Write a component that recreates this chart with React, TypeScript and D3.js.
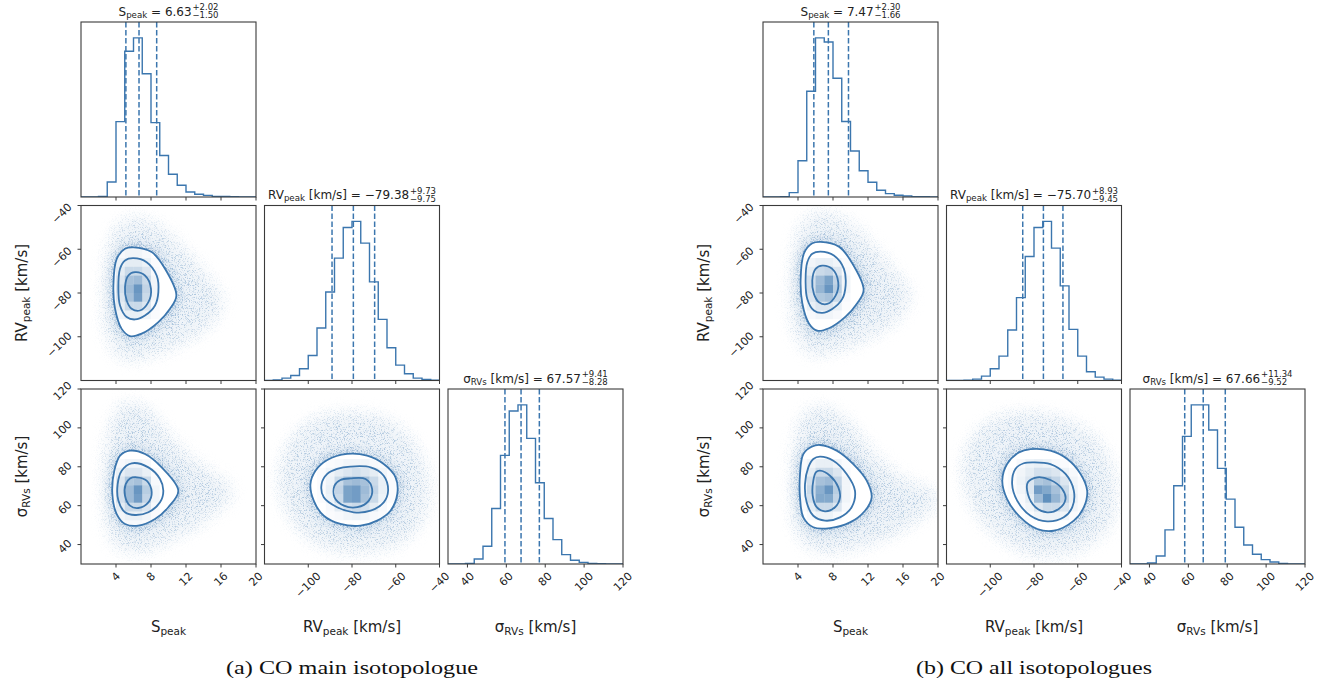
import React, { useEffect, useRef } from "react";
import * as d3 from "d3";

const W = 1332;
const H = 686;
const BLUE = "#3b76ae";
const FRAME = "#3a3a3a";
const FONT = "DejaVu Sans, Verdana, sans-serif";

// ---------- axes ----------
const sPeakDomain: [number, number] = [0, 20];
const rvPeakDomain: [number, number] = [-120, -40];
const sigmaDomain: [number, number] = [30, 120];
const sPeakTicks = [4, 8, 12, 16, 20];
const rvPeakTicks = [-100, -80, -60, -40];
const sigmaTicks = [40, 60, 80, 100, 120];

// ---------- 1D histograms (20 bins over each domain, relative counts) ----------
const sPeakHistA = [0, 0, 2, 45, 225, 435, 475, 368, 222, 124, 68, 35, 15, 8, 5, 2, 2, 1, 0, 0];
const rvPeakHistA = [0, 2, 7, 15, 35, 75, 157, 265, 366, 458, 476, 411, 295, 183, 98, 46, 20, 7, 3, 1];
const sigmaHistA = [0, 0, 2, 15, 53, 166, 325, 458, 476, 376, 243, 136, 73, 28, 11, 5, 2, 1, 0, 0];
const sPeakHistB = [0, 0, 1, 13, 108, 315, 474, 462, 354, 225, 137, 78, 44, 20, 10, 5, 3, 1, 1, 0];
const rvPeakHistB = [0, 0, 1, 4, 13, 35, 73, 151, 248, 371, 458, 476, 396, 283, 153, 73, 26, 10, 4, 1];
const sigmaHistB = [0, 0, 3, 24, 102, 234, 382, 476, 476, 401, 286, 194, 110, 57, 29, 13, 6, 2, 0, 0];

// ---------- quantiles (16%, 50%, 84%) ----------
const sPeakQuantA = [5.13, 6.63, 8.65];
const rvPeakQuantA = [-89.13, -79.38, -69.65];
const sigmaQuantA = [59.29, 67.57, 76.98];
const sPeakQuantB = [5.81, 7.47, 9.77];
const rvPeakQuantB = [-85.15, -75.7, -66.77];
const sigmaQuantB = [58.14, 67.66, 79.0];

// ---------- title values: [median, +err, -err] ----------
const sPeakTitleA = ["6.63", "+2.02", "\u22121.50"];
const rvPeakTitleA = ["\u221279.38", "+9.73", "\u22129.75"];
const sigmaTitleA = ["67.57", "+9.41", "\u22128.28"];
const sPeakTitleB = ["7.47", "+2.30", "\u22121.66"];
const rvPeakTitleB = ["\u221275.70", "+8.93", "\u22129.45"];
const sigmaTitleB = ["67.66", "+11.34", "\u22129.52"];

const captions = ["(a) CO main isotopologue", "(b) CO all isotopologues"];

// ---------- 2D panels: contours (outer, middle, inner) and point cloud extent ----------
// A: S_peak vs RV_peak
const cloudA10 = [[5.79, -46.1], [9.22, -50.7], [11.9, -61.3], [14.5, -73.5], [16.1, -84.2], [14.5, -94.8], [11.5, -102.5], [7.7, -108.6], [5.03, -110.1], [3.5, -104], [2.74, -88.8], [2.93, -68.9], [3.89, -52.2]];
const outerA10 = [[5.98, -59.1], [8.08, -61.3], [9.6, -68.9], [10.9, -81.1], [10.17, -87.2], [8.84, -93.3], [6.93, -98.6], [5.6, -99.7], [4.65, -96.4], [3.89, -87.2], [3.7, -76.6], [4.08, -64.4], [5.03, -59.8]];
const middleA10 = [[5.98, -64.1], [7.5, -65.9], [8.65, -72.0], [8.84, -79.6], [8.46, -85.7], [7.31, -90.3], [6.17, -92.1], [5.22, -91.0], [4.46, -85.7], [4.27, -78.1], [4.46, -68.9], [5.03, -65.1]];
const innerA10 = [[6.17, -70.5], [7.31, -72.0], [8.0, -78.1], [7.7, -84.2], [6.74, -88.0], [5.79, -87.2], [5.22, -83.4], [5.03, -77.3], [5.41, -72.0]];
const densA10 = [
  [0, 0.05, 0.08, 0.08, 0.05, 0],
  [0, 0.1, 0.15, 0.15, 0.1, 0.03],
  [0.03, 0.15, 0.3, 0.3, 0.2, 0.05],
  [0.05, 0.2, 0.5, 0.55, 0.3, 0.08],
  [0.05, 0.25, 0.55, 0.85, 0.35, 0.08],
  [0.05, 0.2, 0.5, 0.8, 0.3, 0.08],
  [0.03, 0.15, 0.3, 0.3, 0.2, 0.05],
  [0, 0.08, 0.12, 0.12, 0.08, 0.03],
];
// A: S_peak vs sigma
const cloudA20 = [[5.03, 112.3], [7.7, 108.9], [10.36, 93.4], [13.8, 79.7], [17.2, 67.7], [14.5, 54.0], [10.7, 43.7], [6.93, 36.8], [4.27, 38.6], [3.12, 48.9], [2.74, 66.0], [2.93, 88.3], [3.69, 103.7]];
const outerA20 = [[5.6, 88.3], [7.31, 86.6], [9.22, 79.7], [11.12, 67.7], [9.98, 59.2], [8.46, 53.1], [6.55, 49.7], [5.03, 50.6], [4.08, 55.7], [3.58, 66.0], [3.81, 78.0], [4.46, 85.7]];
const middleA20 = [[5.79, 81.8], [7.7, 79.7], [9.03, 73.7], [9.41, 67.7], [9.03, 61.7], [7.7, 56.6], [6.17, 55.2], [5.03, 56.6], [4.27, 62.6], [4.19, 71.1], [4.65, 78.0]];
const innerA20 = [[6.36, 74.6], [7.5, 72.9], [8.08, 66.9], [7.7, 61.7], [6.55, 58.8], [5.6, 60.0], [5.03, 65.1], [5.11, 71.1], [5.6, 74.0]];
const densA20 = [
  [0, 0.05, 0.08, 0.08, 0.05, 0],
  [0.03, 0.12, 0.2, 0.2, 0.12, 0.03],
  [0.05, 0.2, 0.45, 0.5, 0.3, 0.05],
  [0.05, 0.25, 0.55, 0.85, 0.4, 0.08],
  [0.05, 0.25, 0.55, 0.8, 0.35, 0.08],
  [0.03, 0.15, 0.3, 0.3, 0.2, 0.05],
  [0, 0.08, 0.12, 0.12, 0.08, 0.03],
  [0, 0.03, 0.05, 0.05, 0.03, 0],
];
// A: RV_peak vs sigma
const cloudA21 = [[-80.7, 107.1], [-63.9, 103.7], [-50.2, 88.3], [-45.6, 67.7], [-50.2, 48.9], [-63.9, 38.6], [-80.7, 36.8], [-97.5, 42.0], [-109.6, 57.4], [-112.7, 76.3], [-106.6, 95.2], [-94.4, 105.4]];
const outerA21 = [[-82.2, 86.6], [-73.1, 85.7], [-65.5, 81.4], [-60.1, 74.6], [-59.3, 66.0], [-62.4, 57.4], [-68.5, 52.3], [-76.1, 49.7], [-85.3, 50.6], [-92.9, 54.8], [-97.5, 62.6], [-99.0, 71.1], [-96.7, 78.0], [-91.3, 83.5]];
const middleA21 = [[-80.7, 80.1], [-71.5, 79.7], [-65.5, 75.4], [-63.5, 67.7], [-65.5, 61.7], [-71.5, 57.4], [-79.2, 56.6], [-86.8, 59.2], [-92.9, 64.3], [-93.9, 71.1], [-91.3, 76.3], [-86.8, 78.9]];
const innerA21 = [[-80.7, 74.0], [-73.8, 73.7], [-70.8, 68.6], [-72.3, 62.6], [-77.6, 59.2], [-83.7, 60.0], [-88.0, 64.3], [-88.0, 70.3], [-85.3, 73.2]];
const densA21 = [
  [0, 0.03, 0.05, 0.08, 0.08, 0.08, 0.05, 0.03, 0],
  [0.03, 0.08, 0.15, 0.2, 0.25, 0.2, 0.15, 0.08, 0.03],
  [0.03, 0.1, 0.3, 0.5, 0.55, 0.5, 0.3, 0.12, 0.03],
  [0.03, 0.12, 0.35, 0.75, 0.8, 0.55, 0.35, 0.12, 0.03],
  [0.03, 0.1, 0.3, 0.75, 0.8, 0.5, 0.3, 0.1, 0.03],
  [0, 0.05, 0.15, 0.25, 0.3, 0.25, 0.15, 0.05, 0],
  [0, 0.03, 0.05, 0.08, 0.1, 0.08, 0.05, 0.03, 0],
];
// B: S_peak vs RV_peak
const cloudB10 = [[6.39, -43.6], [9.82, -48.2], [12.5, -58.8], [15.1, -71], [16.7, -81.7], [15.1, -92.3], [12.1, -100], [8.3, -106.1], [5.63, -107.6], [4.1, -101.5], [3.34, -86.3], [3.53, -66.4], [4.49, -49.7]];
const outerB10 = [[6.58, -56.6], [8.68, -58.8], [10.2, -66.4], [11.5, -78.6], [10.77, -84.7], [9.44, -90.8], [7.53, -96.1], [6.2, -97.2], [5.25, -93.9], [4.49, -84.7], [4.3, -74.1], [4.68, -61.9], [5.63, -57.3]];
const middleB10 = [[6.58, -61.1], [8.1, -62.9], [9.25, -69], [9.44, -76.6], [9.06, -82.7], [7.91, -87.3], [6.77, -89.1], [5.82, -88], [5.06, -82.7], [4.87, -75.1], [5.06, -65.9], [5.63, -62.1]];
const innerB10 = [[6.77, -67.5], [7.91, -69], [8.6, -75.1], [8.3, -81.2], [7.34, -85], [6.39, -84.2], [5.82, -80.4], [5.63, -74.3], [6.01, -69]];
const densB10 = [
  [0.03, 0.08, 0.12, 0.12, 0.08, 0.03],
  [0.05, 0.15, 0.3, 0.35, 0.2, 0.05],
  [0.05, 0.25, 0.55, 0.75, 0.35, 0.08],
  [0.05, 0.25, 0.6, 0.85, 0.4, 0.08],
  [0.05, 0.2, 0.45, 0.5, 0.3, 0.05],
  [0.03, 0.12, 0.2, 0.2, 0.12, 0.03],
  [0, 0.05, 0.08, 0.08, 0.05, 0],
];
// B: S_peak vs sigma
const cloudB20 = [[6.51, 110.6], [9.56, 103.7], [12.23, 88.3], [15.66, 74.6], [19.85, 64.3], [16.8, 50.6], [12.99, 42.0], [8.42, 36.8], [5.37, 38.6], [3.85, 48.9], [3.47, 66.0], [3.66, 88.3], [4.61, 105.4]];
const outerB20 = [[6.51, 91.2], [8.42, 88.3], [10.32, 81.4], [11.85, 72.9], [12.42, 64.3], [11.66, 57.4], [9.94, 51.4], [7.66, 48.5], [5.75, 48.9], [4.61, 54.0], [4.23, 64.3], [4.23, 76.3], [4.61, 86.6], [5.56, 90.3]];
const middleB20 = [[6.51, 85.2], [8.04, 83.1], [9.56, 76.3], [10.51, 67.7], [10.13, 59.2], [8.8, 54.0], [7.09, 52.3], [5.75, 54.8], [4.99, 61.7], [4.8, 71.1], [5.18, 79.7], [5.75, 84.0]];
const innerB20 = [[6.51, 78.0], [7.66, 75.4], [8.61, 69.4], [8.8, 64.3], [8.23, 59.2], [7.09, 57.1], [6.14, 59.2], [5.68, 65.1], [5.75, 72.9], [6.06, 77.2]];
const densB20 = [
  [0.03, 0.08, 0.12, 0.12, 0.08, 0.03],
  [0.05, 0.15, 0.3, 0.3, 0.2, 0.05],
  [0.05, 0.25, 0.5, 0.55, 0.35, 0.08],
  [0.05, 0.3, 0.65, 0.85, 0.4, 0.08],
  [0.05, 0.25, 0.7, 0.7, 0.35, 0.08],
  [0.03, 0.15, 0.3, 0.3, 0.2, 0.05],
  [0, 0.05, 0.1, 0.1, 0.05, 0],
];
// B: RV_peak vs sigma
const cloudB21 = [[-80.1, 107.1], [-61.8, 102.0], [-48.1, 88.3], [-43.5, 67.7], [-46.5, 48.9], [-61.8, 36.8], [-78.5, 35.0], [-95.3, 43.7], [-107.5, 59.2], [-112.1, 78.0], [-107.5, 95.2], [-95.3, 105.4]];
const outerB21 = [[-81.6, 89.1], [-72.5, 88.3], [-64.8, 84.0], [-58.7, 76.3], [-55.7, 67.7], [-57.2, 59.2], [-61.8, 52.3], [-71.0, 47.1], [-78.5, 48.0], [-86.2, 54.0], [-92.3, 63.4], [-94.5, 72.9], [-92.3, 81.4], [-86.9, 87.4]];
const middleB21 = [[-80.1, 82.3], [-72.5, 81.4], [-65.6, 76.3], [-61.8, 67.7], [-62.5, 59.2], [-66.4, 54.0], [-74.0, 51.9], [-81.6, 54.8], [-87.7, 62.6], [-90.0, 71.1], [-88.5, 78.9], [-84.7, 81.8]];
const innerB21 = [[-78.5, 74.6], [-72.5, 73.2], [-67.1, 68.6], [-65.6, 63.4], [-68.7, 58.3], [-74.0, 56.6], [-79.3, 59.2], [-82.8, 66.0], [-82.8, 72.0]];
const densB21 = [
  [0, 0.05, 0.1, 0.12, 0.1, 0.05, 0.03, 0, 0],
  [0.03, 0.08, 0.15, 0.25, 0.25, 0.2, 0.1, 0.05, 0],
  [0.03, 0.1, 0.2, 0.45, 0.5, 0.35, 0.2, 0.08, 0.03],
  [0.03, 0.08, 0.2, 0.8, 0.7, 0.5, 0.3, 0.1, 0.03],
  [0, 0.05, 0.15, 0.55, 0.9, 0.6, 0.35, 0.12, 0.03],
  [0, 0.03, 0.08, 0.2, 0.3, 0.3, 0.2, 0.08, 0.03],
  [0, 0, 0.03, 0.08, 0.1, 0.1, 0.08, 0.03, 0],
];

// ---------- layout ----------
const P = 175;
const STEP = 183.5;
const TOP = 22;
const FIG_X0 = [81, 763];

type Var = { domain: [number, number]; ticks: number[]; label: [string, string, string]; bins: number; yShift: number };
const vars: Var[] = [
  { domain: sPeakDomain, ticks: sPeakTicks, label: ["S", "peak", ""], bins: 1, yShift: 2 },
  { domain: rvPeakDomain, ticks: rvPeakTicks, label: ["RV", "peak", " [km/s]"], bins: 4, yShift: 8 },
  { domain: sigmaDomain, ticks: sigmaTicks, label: ["\u03c3", "RVs", " [km/s]"], bins: 4.5, yShift: 2 },
];

type Panel2D = { cloud: number[][]; outer: number[][]; middle: number[][]; inner: number[][]; dens: number[][]; x0: number; yTop: number };

const figs = [
  {
    hists: [sPeakHistA, rvPeakHistA, sigmaHistA],
    quants: [sPeakQuantA, rvPeakQuantA, sigmaQuantA],
    titles: [sPeakTitleA, rvPeakTitleA, sigmaTitleA],
    panels: {
      "10": { cloud: cloudA10, outer: outerA10, middle: middleA10, inner: innerA10, dens: densA10, x0: 3, yTop: -64 },
      "20": { cloud: cloudA20, outer: outerA20, middle: middleA20, inner: innerA20, dens: densA20, x0: 3, yTop: 79.5 },
      "21": { cloud: cloudA21, outer: outerA21, middle: middleA21, inner: innerA21, dens: densA21, x0: -96, yTop: 79.5 },
    } as Record<string, Panel2D>,
    caption: captions[0],
    capW: 252,
  },
  {
    hists: [sPeakHistB, rvPeakHistB, sigmaHistB],
    quants: [sPeakQuantB, rvPeakQuantB, sigmaQuantB],
    titles: [sPeakTitleB, rvPeakTitleB, sigmaTitleB],
    panels: {
      "10": { cloud: cloudB10, outer: outerB10, middle: middleB10, inner: innerB10, dens: densB10, x0: 4, yTop: -68 },
      "20": { cloud: cloudB20, outer: outerB20, middle: middleB20, inner: innerB20, dens: densB20, x0: 4, yTop: 79.5 },
      "21": { cloud: cloudB21, outer: outerB21, middle: middleB21, inner: innerB21, dens: densB21, x0: -92, yTop: 79.5 },
    } as Record<string, Panel2D>,
    caption: captions[1],
    capW: 236,
  },
];

const fmt = (v: number) => (v < 0 ? "\u2212" + Math.abs(v) : String(v));

function subLabel(t: any, parts: [string, string, string], fs: number) {
  t.append("tspan").text(parts[0]);
  t.append("tspan").attr("font-size", fs * 0.7).attr("dy", fs * 0.22).text(parts[1]);
  if (parts[2]) t.append("tspan").attr("dy", -fs * 0.22).text(parts[2]);
}

export default function App() {
  const ref = useRef<SVGSVGElement>(null);
  useEffect(() => {
    const svg = d3.select(ref.current as SVGSVGElement);
    svg.selectAll("*").remove();
    svg.append("rect").attr("width", W).attr("height", H).attr("fill", "#fff");
    const defs = svg.append("defs");
    const mkBlur = (id: string, sd: number) =>
      defs.append("filter").attr("id", id).attr("x", "-50%").attr("y", "-50%").attr("width", "200%").attr("height", "200%")
        .append("feGaussianBlur").attr("stdDeviation", sd);
    mkBlur("blurCloud", 7);
    mkBlur("blurHalo", 3);
    // grain texture for the sample cloud: blurred shape alpha modulated by a sparse dot mask
    const mkSpeckle = (id: string, sd: number, seed: number, k: number, b: number) => {
      const sf = defs.append("filter").attr("id", id).attr("x", "-50%").attr("y", "-50%").attr("width", "200%").attr("height", "200%");
      sf.append("feGaussianBlur").attr("in", "SourceGraphic").attr("stdDeviation", sd).attr("result", "b");
      sf.append("feTurbulence").attr("type", "fractalNoise").attr("baseFrequency", 1.3).attr("numOctaves", 1).attr("seed", seed).attr("result", "n");
      sf.append("feColorMatrix").attr("in", "n").attr("type", "matrix")
        .attr("values", `0 0 0 0 0  0 0 0 0 0  0 0 0 0 0  ${k} 0 0 0 ${-b}`).attr("result", "na");
      sf.append("feComposite").attr("in", "b").attr("in2", "na").attr("operator", "in");
    };
    mkSpeckle("speckleWide", 9, 4, 5, 2.55);
    mkSpeckle("speckleNear", 6, 9, 5, 2.3);

    const tickLen = 3.5;
    const TFS = 11;

    figs.forEach((fig, fi) => {
      const X0 = FIG_X0[fi];
      for (let i = 0; i < 3; i++) {
        for (let j = 0; j <= i; j++) {
          const px = X0 + j * STEP;
          const py = TOP + i * STEP;
          const id = `f${fi}p${i}${j}`;
          const g = svg.append("g").attr("transform", `translate(${px},${py})`);
          const xs = d3.scaleLinear().domain(vars[j].domain).range([0, P]);
          defs.append("clipPath").attr("id", `clip-${id}`).append("rect").attr("width", P).attr("height", P);
          const pg = g.append("g").attr("clip-path", `url(#clip-${id})`);

          if (i === j) {
            const counts = fig.hists[i];
            const [d0, d1] = vars[i].domain;
            const n = counts.length;
            const bw = (d1 - d0) / n;
            const ys = d3.scaleLinear().domain([0, (d3.max(counts) as number) * 1.1]).range([P, 0]);
            const pts: [number, number][] = [[d0, 0]];
            counts.forEach((c, k) => {
              pts.push([d0 + k * bw, c]);
              pts.push([d0 + (k + 1) * bw, c]);
            });
            pts.push([d1, 0]);
            const line = d3.line<[number, number]>().x((d) => xs(d[0])).y((d) => ys(d[1]));
            pg.append("path").attr("d", line(pts) as string).attr("fill", "none").attr("stroke", BLUE).attr("stroke-width", 1.4);
            fig.quants[i].forEach((q) => {
              pg.append("line").attr("x1", xs(q)).attr("x2", xs(q)).attr("y1", 0).attr("y2", P)
                .attr("stroke", BLUE).attr("stroke-width", 1.5).attr("stroke-dasharray", "5.5,2.5");
            });
            // title
            const tv = fig.titles[i];
            const tg = svg.append("g");
            const ty = py - 6.5;
            const tfs = 12;
            const t = tg.append("text").attr("y", ty).attr("font-size", tfs).attr("font-family", FONT).attr("fill", "#222");
            t.append("tspan").text(vars[i].label[0]);
            t.append("tspan").attr("font-size", tfs * 0.72).attr("dy", 2).text(vars[i].label[1]);
            t.append("tspan").attr("dy", -2).text(vars[i].label[2] + " = " + tv[0]);
            const w = (t.node() as SVGTextElement).getComputedTextLength();
            const sfs = 8.5;
            const sp = tg.append("text").attr("x", w + 0.8).attr("y", ty - 5.5).attr("font-size", sfs).attr("font-family", FONT).attr("fill", "#222").text(tv[1]);
            const sb = tg.append("text").attr("x", w + 0.8).attr("y", ty + 2.6).attr("font-size", sfs).attr("font-family", FONT).attr("fill", "#222").text(tv[2]);
            const ws = Math.max((sp.node() as SVGTextElement).getComputedTextLength(), (sb.node() as SVGTextElement).getComputedTextLength());
            const total = w + 0.8 + ws;
            tg.attr("transform", `translate(${px + P / 2 - total / 2},0)`);
          } else {
            const spec = fig.panels[`${i}${j}`];
            const ys = d3.scaleLinear().domain(vars[i].domain).range([P, 0]);
            const line = d3.line<number[]>().x((d) => xs(d[0])).y((d) => ys(d[1])).curve(d3.curveCatmullRomClosed.alpha(0.5));
            // faint smooth haze + grainy sample cloud, denser towards the outer contour
            pg.append("path").attr("d", line(spec.cloud) as string).attr("fill", BLUE).attr("opacity", 0.08).attr("filter", "url(#blurCloud)");
            pg.append("path").attr("d", line(spec.cloud) as string).attr("fill", BLUE).attr("opacity", 0.35).attr("filter", "url(#speckleWide)");
            pg.append("path").attr("d", line(spec.outer) as string).attr("fill", BLUE).attr("opacity", 0.85).attr("filter", "url(#speckleNear)");
            pg.append("path").attr("d", line(spec.outer) as string).attr("fill", BLUE).attr("opacity", 0.2).attr("filter", "url(#blurCloud)");
            pg.append("path").attr("d", line(spec.outer) as string).attr("fill", "#fff");
            defs.append("clipPath").attr("id", `oc-${id}`).append("path").attr("d", line(spec.outer) as string);
            const cg = pg.append("g").attr("clip-path", `url(#oc-${id})`);
            const bx = vars[j].bins;
            const by = vars[i].bins;
            spec.dens.forEach((row, r) => {
              const ylo = spec.yTop - r * by;
              row.forEach((v, c) => {
                if (v <= 0) return;
                const xlo = spec.x0 + c * bx;
                cg.append("rect").attr("x", xs(xlo)).attr("y", ys(ylo + by)).attr("width", xs(xlo + bx) - xs(xlo))
                  .attr("height", ys(ylo) - ys(ylo + by)).attr("fill", BLUE).attr("opacity", v * 0.9);
              });
            });
            [spec.outer, spec.middle, spec.inner].forEach((c) => {
              pg.append("path").attr("d", line(c) as string).attr("fill", "none").attr("stroke", BLUE).attr("stroke-width", 1.8);
            });
            // left ticks
            vars[i].ticks.forEach((tv) => {
              const y = ys(tv);
              g.append("line").attr("x1", -tickLen).attr("x2", 0).attr("y1", y).attr("y2", y).attr("stroke", FRAME).attr("stroke-width", 1);
              if (j === 0) {
                const t = g.append("text").attr("font-size", TFS).attr("font-family", FONT).attr("fill", "#222")
                  .attr("text-anchor", "middle").attr("dominant-baseline", "central").text(fmt(tv));
                const w = (t.node() as SVGTextElement).getComputedTextLength();
                const bb = (w + TFS * 0.75) * Math.SQRT1_2;
                t.attr("transform", `translate(${-tickLen - 4.5 - bb / 2},${y + vars[i].yShift}) rotate(-45)`);
              }
            });
          }
          // frame
          g.append("rect").attr("width", P).attr("height", P).attr("fill", "none").attr("stroke", FRAME).attr("stroke-width", 1.1);
          // bottom ticks
          vars[j].ticks.forEach((tv) => {
            const x = xs(tv);
            g.append("line").attr("x1", x).attr("x2", x).attr("y1", P).attr("y2", P + tickLen).attr("stroke", FRAME).attr("stroke-width", 1);
            if (i === 2) {
              const t = g.append("text").attr("font-size", TFS).attr("font-family", FONT).attr("fill", "#222")
                .attr("text-anchor", "middle").attr("dominant-baseline", "central").text(fmt(tv));
              const w = (t.node() as SVGTextElement).getComputedTextLength();
              const bb = (w + TFS * 0.75) * Math.SQRT1_2;
              t.attr("transform", `translate(${x},${P + tickLen + 4 + bb / 2}) rotate(-45)`);
            }
          });
        }
      }
      // x labels
      for (let j = 0; j < 3; j++) {
        const t = svg.append("text").attr("x", X0 + j * STEP + P / 2).attr("y", 632).attr("text-anchor", "middle")
          .attr("font-size", 15).attr("font-family", FONT).attr("fill", "#222");
        subLabel(t, vars[j].label, 15);
      }
      // y labels
      for (let i = 1; i < 3; i++) {
        const cy = TOP + i * STEP + P / 2;
        const t = svg.append("text").attr("text-anchor", "middle").attr("font-size", 15).attr("font-family", FONT).attr("fill", "#222")
          .attr("transform", `translate(${X0 - 54},${cy}) rotate(-90)`);
        subLabel(t, vars[i].label, 15);
      }
      // caption
      svg.append("text").attr("x", X0 + STEP + P / 2 - (fig.capW / 2)).attr("y", 674)
        .attr("font-size", 18).attr("font-family", "Liberation Serif, Times New Roman, serif").attr("fill", "#111")
        .attr("textLength", fig.capW).attr("lengthAdjust", "spacingAndGlyphs").text(fig.caption);
    });
  }, []);
  return <svg ref={ref} width={W} height={H} style={{ position: "absolute", left: 0, top: 0 }} />;
}
